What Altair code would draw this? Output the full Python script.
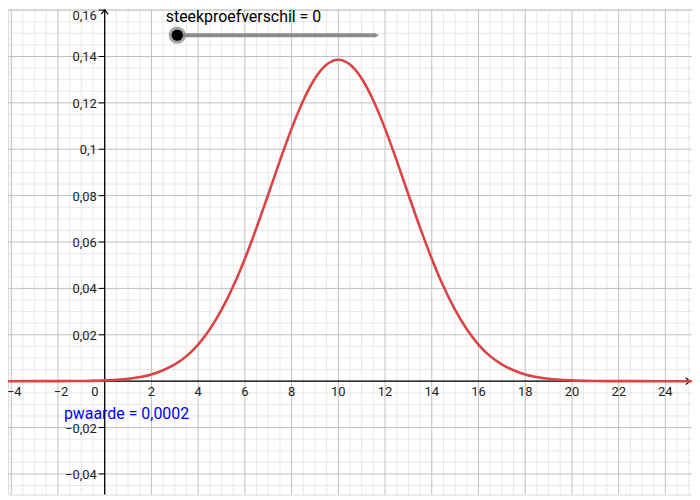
import altair as alt
import pandas as pd
import numpy as np

# ---- data ----
curve_x = [-4.14, -3, -2, -1, 0, 1, 2, 2.5, 3, 3.5, 4, 4.5, 5, 5.5, 6, 6.5, 7, 7.5, 8, 8.5,
           9, 9.5, 10, 10.5, 11, 11.5, 12, 12.5, 13, 13.5, 14, 14.5, 15, 15.5, 16, 16.5, 17,
           17.5, 18, 19, 20, 21, 22, 23, 24, 25.14]
curve_y = [0, 0.00001, 0.00002, 0.00009, 0.00033, 0.00105, 0.0029, 0.0047, 0.0072, 0.0108,
           0.0158, 0.0224, 0.0307, 0.0409, 0.0528, 0.0662, 0.0805, 0.0951, 0.1089, 0.1210,
           0.1305, 0.1365, 0.1386, 0.1365, 0.1305, 0.1210, 0.1089, 0.0951, 0.0805, 0.0662,
           0.0528, 0.0409, 0.0307, 0.0224, 0.0158, 0.0108, 0.0072, 0.0047, 0.0029, 0.00105,
           0.00033, 0.00009, 0.00002, 0.00001, 0, 0]

x_ticks_neg = [-4, -2]
x_labels_neg = ["−4", "−2"]
x_ticks = [2, 4, 6, 8, 10, 12, 14, 16, 18, 20, 22, 24]
x_labels = ["2", "4", "6", "8", "10", "12", "14", "16", "18", "20", "22", "24"]
y_ticks = [-0.04, -0.02, 0.02, 0.04, 0.06, 0.08, 0.1, 0.12, 0.14]
y_labels = ["−0,04", "−0,02", "0,02", "0,04", "0,06", "0,08", "0,1", "0,12", "0,14"]
y_top_tick = 0.16
y_top_label = "0,16"

slider_label = "steekproefverschil = 0"
pvalue_label = "pwaarde = 0,0002"

# ---- layout ----
W, H = 688, 488
X_DOM = [-4.14, 25.14]
Y_DOM = [-0.0489, 0.1603]
xs = alt.Scale(domain=X_DOM, nice=False, zero=False)
ys = alt.Scale(domain=Y_DOM, nice=False, zero=False)

minor_x = [v for v in np.arange(-4.0, 25.01, 0.5) if abs(v / 2 - round(v / 2)) > 1e-9]
major_x = list(np.arange(-4.0, 25.01, 2.0))
minor_y = [v for v in np.arange(-0.045, 0.1601, 0.005) if abs(v / 0.02 - round(v / 0.02)) > 1e-6]
major_y = list(np.arange(-0.04, 0.1601, 0.02))

one = pd.DataFrame({"a": [0]})
FONT = "Roboto"
LABEL_COLOR = "#222222"

def vgrid(vals, color):
    return alt.Chart(pd.DataFrame({"v": vals})).mark_rule(color=color, strokeWidth=1).encode(
        x=alt.X("v:Q", scale=xs, axis=None))

def hgrid(vals, color):
    return alt.Chart(pd.DataFrame({"v": vals})).mark_rule(color=color, strokeWidth=1).encode(
        y=alt.Y("v:Q", scale=ys, axis=None))

grid = vgrid(minor_x, "#e8e8e8") + hgrid(minor_y, "#e8e8e8") + vgrid(major_x, "#c0c0c0") + hgrid(major_y, "#c0c0c0")

x_axis = alt.Chart(one).mark_rule(color="black", strokeWidth=1.3).encode(
    y=alt.Y(datum=0, scale=ys, axis=None))
y_axis = alt.Chart(one).mark_rule(color="black", strokeWidth=1.3).encode(
    x=alt.X(datum=0, scale=xs, axis=None))

x_arrow = alt.Chart(one).mark_point(shape="M-1.2,-1L0,0L-1.2,1", size=49, filled=False,
                                    color="black", strokeWidth=1.2, opacity=1).encode(
    x=alt.X(datum=25.05, scale=xs, axis=None), y=alt.Y(datum=0, scale=ys, axis=None))
y_arrow = alt.Chart(one).mark_point(shape="M-1,1.2L0,0L1,1.2", size=49, filled=False,
                                    color="black", strokeWidth=1.2, opacity=1).encode(
    x=alt.X(datum=0, scale=xs, axis=None), y=alt.Y(datum=0.1601, scale=ys, axis=None))

curve = alt.Chart(pd.DataFrame({"x": curve_x, "y": curve_y})).mark_line(
    color="#dc4444", strokeWidth=2.6, interpolate="monotone", clip=True).encode(
    x=alt.X("x:Q", scale=xs, axis=None), y=alt.Y("y:Q", scale=ys, axis=None))

ydf = pd.DataFrame({"y": y_ticks + [y_top_tick]})
y_tickmarks = alt.Chart(ydf).mark_tick(orient="horizontal", size=6, thickness=1, color="black",
                                       xOffset=-3, opacity=1).encode(
    x=alt.X(datum=0, scale=xs, axis=None), y=alt.Y("y:Q", scale=ys, axis=None))
y_text = alt.Chart(pd.DataFrame({"y": y_ticks, "lab": y_labels})).mark_text(
    align="right", baseline="middle", dx=-8, dy=1, fontSize=13, font=FONT, color=LABEL_COLOR).encode(
    x=alt.X(datum=0, scale=xs, axis=None), y=alt.Y("y:Q", scale=ys, axis=None), text="lab:N")
y_top_text = alt.Chart(one).mark_text(
    align="right", baseline="middle", dx=-8, dy=6, fontSize=13, font=FONT, color=LABEL_COLOR,
    text=y_top_label).encode(
    x=alt.X(datum=0, scale=xs, axis=None), y=alt.Y(datum=y_top_tick, scale=ys, axis=None))

x_text = alt.Chart(pd.DataFrame({"x": x_ticks, "lab": x_labels})).mark_text(
    align="center", baseline="top", dy=5, fontSize=13, font=FONT, color=LABEL_COLOR).encode(
    x=alt.X("x:Q", scale=xs, axis=None), y=alt.Y(datum=0, scale=ys, axis=None), text="lab:N")
x_text_neg = alt.Chart(pd.DataFrame({"x": x_ticks_neg, "lab": x_labels_neg})).mark_text(
    align="center", baseline="top", dx=3, dy=5, fontSize=13, font=FONT, color=LABEL_COLOR).encode(
    x=alt.X("x:Q", scale=xs, axis=None), y=alt.Y(datum=0, scale=ys, axis=None), text="lab:N")
origin_text = alt.Chart(one).mark_text(align="center", baseline="top", dx=-10, dy=5, fontSize=13,
                                       font=FONT, color=LABEL_COLOR, text="0").encode(
    x=alt.X(datum=0, scale=xs, axis=None), y=alt.Y(datum=0, scale=ys, axis=None))

# slider
slider_line = alt.Chart(one).mark_rule(color="#8c8c8c", strokeWidth=4).encode(
    x=alt.X(datum=3.106, scale=xs, axis=None), x2=alt.X2(datum=11.62),
    y=alt.Y(datum=0.1492, scale=ys, axis=None))
slider_arrow = alt.Chart(one).mark_point(shape="M-1,-1L1,0L-1,1Z", size=16, filled=True,
                                         color="#8c8c8c", opacity=1).encode(
    x=alt.X(datum=11.66, scale=xs, axis=None), y=alt.Y(datum=0.1492, scale=ys, axis=None))
knob_halo = alt.Chart(one).mark_point(shape="circle", size=300, filled=True, color="#8a8a8a",
                                      opacity=0.75).encode(
    x=alt.X(datum=3.106, scale=xs, axis=None), y=alt.Y(datum=0.1492, scale=ys, axis=None))
knob = alt.Chart(one).mark_point(shape="circle", size=130, filled=True, color="black",
                                 opacity=1).encode(
    x=alt.X(datum=3.106, scale=xs, axis=None), y=alt.Y(datum=0.1492, scale=ys, axis=None))
slider_text = alt.Chart(one).mark_text(align="left", baseline="alphabetic", fontSize=16, dy=2,
                                       font=FONT, color="black", text=slider_label).encode(
    x=alt.X(datum=2.613, scale=xs, axis=None), y=alt.Y(datum=0.1559, scale=ys, axis=None))

p_text = alt.Chart(one).mark_text(align="left", baseline="alphabetic", fontSize=16,
                                  font=FONT, color="#0000ff", text=pvalue_label).encode(
    x=alt.X(datum=-1.745, scale=xs, axis=None), y=alt.Y(datum=-0.0163, scale=ys, axis=None))

chart = alt.layer(
    grid, x_axis, y_axis, x_arrow, y_arrow, curve, y_tickmarks, y_text, y_top_text,
    x_text, x_text_neg, origin_text,
    slider_line, slider_arrow, knob_halo, knob, slider_text, p_text
).properties(width=W, height=H, padding=0, autosize=alt.AutoSizeParams(type="none")
).configure_view(stroke=None).configure(background="white")

chart.save("out.html", embed_options={"renderer": "svg", "actions": False})
